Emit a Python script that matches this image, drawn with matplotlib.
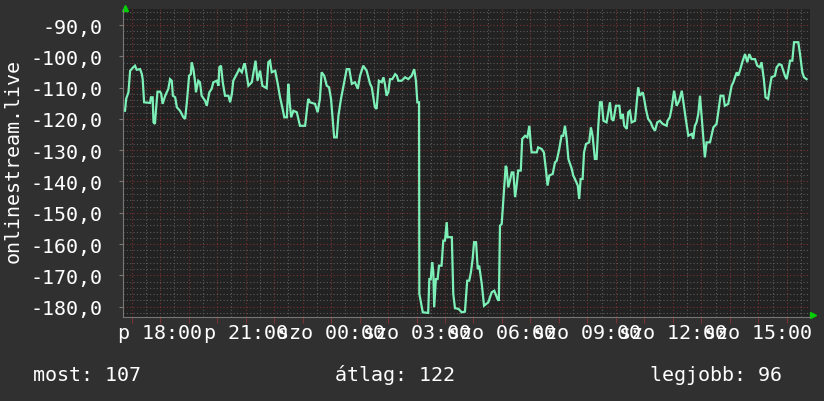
import matplotlib
matplotlib.use('Agg')
import matplotlib.pyplot as plt
from matplotlib.ticker import MultipleLocator, FuncFormatter

# hours counted from Friday 00:00, signal value per sample
hours = [16.77, 16.81, 16.89, 16.95, 17.06, 17.12, 17.18, 17.30, 17.36, 17.39,
         17.44, 17.65, 17.68, 17.74, 17.77, 17.82, 17.86, 17.91, 18.00, 18.04,
         18.09, 18.18, 18.26, 18.29, 18.35, 18.41, 18.45, 18.53, 18.59, 18.70,
         18.82, 18.88, 18.94, 19.02, 19.08, 19.11, 19.17, 19.23, 19.26, 19.34,
         19.40, 19.46, 19.58, 19.64, 19.73, 19.81, 19.87, 19.99, 20.05, 20.08,
         20.14, 20.20, 20.28, 20.40, 20.46, 20.52, 20.57, 20.69, 20.78, 20.87,
         20.95, 20.98, 21.10, 21.22, 21.30, 21.35, 21.42,
         21.51, 21.59, 21.74, 21.80, 21.86, 21.92, 22.04, 22.13, 22.21, 22.29,
         22.36, 22.45, 22.50, 22.54, 22.60, 22.68, 22.80, 22.91, 23.09, 23.15,
         23.20, 23.26, 23.44, 23.53, 23.61, 23.67, 23.76, 23.85, 23.93, 24.00,
         24.11, 24.20, 24.26, 24.35, 24.47, 24.55, 24.64, 24.73, 24.84, 24.94,
         25.02, 25.13, 25.25, 25.37, 25.43, 25.54, 25.60, 25.68, 25.78, 25.84,
         25.89, 25.95, 26.01, 26.07, 26.15, 26.25, 26.31, 26.36, 26.48, 26.60,
         26.71, 26.83, 26.92, 26.98, 27.03, 27.09,
         27.10, 27.22, 27.41, 27.45, 27.50, 27.55, 27.59, 27.62, 27.68, 27.74,
         27.79, 27.88, 27.94, 28.00, 28.06, 28.09, 28.24, 28.29, 28.35, 28.47,
         28.59, 28.70, 28.78, 28.85, 28.91, 28.97, 29.02, 29.09, 29.15, 29.20,
         29.29, 29.37, 29.52, 29.64, 29.73, 29.84, 29.89, 29.93, 29.99, 30.07,
         30.13, 30.16, 30.22, 30.28, 30.34, 30.40, 30.46, 30.52, 30.57, 30.66,
         30.71, 30.81, 30.89, 30.96, 31.01, 31.04, 31.22, 31.27, 31.39, 31.47,
         31.54, 31.60, 31.66, 31.78, 31.86, 31.92, 32.01, 32.09, 32.15, 32.21,
         32.27, 32.33, 32.45, 32.50, 32.56, 32.66, 32.71, 32.76, 32.83, 32.88,
         32.95, 33.06, 33.12, 33.18, 33.26, 33.32, 33.38, 33.44, 33.50, 33.56,
         33.67, 33.79, 33.85, 33.91, 34.00, 34.12, 34.17, 34.24, 34.29, 34.38,
         34.43, 34.49, 34.55, 34.67, 34.73, 34.78, 34.84, 34.94, 34.98, 35.05,
         35.13, 35.22, 35.29, 35.37, 35.45, 35.54, 35.64, 35.78, 35.81,
         35.89, 35.95, 36.04, 36.13, 36.22, 36.31, 36.36, 36.45, 36.54, 36.66,
         36.71, 36.77, 36.83, 36.89, 36.95, 37.01, 37.12, 37.18, 37.30, 37.42,
         37.53, 37.59, 37.67, 37.77, 37.82, 37.94, 38.06, 38.12, 38.24, 38.29,
         38.35, 38.45, 38.53, 38.61, 38.68, 38.76, 38.88, 38.96, 39.05, 39.11,
         39.19, 39.25, 39.34, 39.40, 39.46, 39.58, 39.64, 39.73, 39.81, 39.93,
         39.99, 40.05, 40.11, 40.19, 40.25, 40.40, 40.46, 40.54, 40.60, 40.69]

values = [-117.4, -113.6, -111.5, -104.6, -103.5, -103.0, -104.3, -104.1, -105.7, -107.3,
          -114.7, -114.9, -113.1, -113.1, -121.1, -121.6, -116.8, -111.3, -111.3, -112.0,
          -115.2, -112.6, -111.0, -110.4, -107.3, -107.8, -112.6, -113.1, -116.3, -117.4,
          -119.5, -120.0, -114.7, -106.2, -105.7, -101.9, -104.1, -108.3, -111.5, -107.8,
          -108.3, -112.6, -114.2, -115.8, -111.5, -110.4, -108.3, -107.8, -109.4, -103.5,
          -103.0, -108.3, -112.6, -112.6, -114.7, -112.0, -107.8, -105.7, -104.1, -105.1,
          -102.5, -102.5, -109.4, -108.3, -104.1, -101.4, -107.8,
          -104.6, -109.4, -110.2, -101.9, -101.4, -105.1, -104.6, -108.8, -113.1, -116.3,
          -119.5, -119.5, -108.8, -113.6, -119.5, -117.4, -117.9, -122.2, -122.2, -117.4,
          -113.6, -114.7, -115.2, -117.9, -113.6, -105.1, -106.2, -109.4, -109.9, -113.6,
          -125.9, -125.9, -119.0, -113.6, -107.8, -104.1, -104.1, -108.8, -108.3, -110.4,
          -106.2, -103.0, -104.6, -108.8, -109.9, -116.3, -116.8, -107.8, -108.3, -106.7,
          -108.8, -112.6, -111.5, -107.3, -107.3, -105.7, -106.2, -107.8, -107.8, -106.7,
          -107.3, -106.2, -104.1, -107.8, -114.7, -114.7,
          -175.9, -181.8, -182.0, -171.2, -171.2, -165.8, -169.0, -180.2, -171.2, -171.2,
          -166.9, -166.9, -158.9, -158.9, -153.0, -157.8, -157.8, -175.9, -180.5, -180.7,
          -181.8, -181.6, -171.7, -171.7, -169.0, -164.8, -159.4, -159.4, -168.0, -166.9,
          -172.7, -179.7, -178.6, -175.4, -174.9, -177.5, -178.1, -154.1, -153.6, -142.9,
          -135.0, -135.5, -141.9, -139.7, -137.1, -137.1, -145.0, -140.8, -136.5, -136.5,
          -126.4, -125.4, -125.9, -122.2, -128.0, -130.7, -130.7, -129.1, -129.6, -130.7,
          -136.0, -141.3, -138.1, -137.6, -133.9, -133.4, -129.6, -125.4, -125.4, -122.2,
          -126.4, -132.8, -136.0, -138.1, -139.2, -141.3, -145.6, -139.2, -139.2, -130.7,
          -128.0, -127.5, -122.7, -125.4, -132.8, -132.8, -122.2, -114.7, -114.7, -120.6,
          -121.1, -114.7, -120.0, -120.6, -115.8, -115.8, -120.0, -118.4, -122.2, -123.2,
          -117.9, -117.4, -121.1, -120.6, -114.7, -109.9, -112.6, -111.5, -113.1, -116.8,
          -120.0, -121.1, -122.7, -123.8, -121.1, -120.6, -121.6, -122.2, -120.6,
          -119.5, -116.8, -111.0, -115.8, -114.2, -111.0, -114.2, -120.0, -125.4, -124.8,
          -126.4, -122.2, -121.1, -118.4, -112.6, -119.5, -132.3, -127.5, -127.5, -122.7,
          -121.6, -117.9, -112.6, -112.6, -115.8, -115.2, -109.4, -108.3, -105.1, -106.2,
          -104.6, -101.4, -99.3, -101.9, -99.3, -100.9, -100.9, -103.0, -103.5, -101.9,
          -107.3, -113.1, -113.6, -109.9, -106.7, -106.2, -103.5, -102.5, -102.8, -106.2,
          -107.3, -104.6, -101.4, -101.4, -95.5, -95.5, -99.3, -105.1, -106.7, -107.3]

tick_hours = [18, 21, 24, 27, 30, 33, 36, 39]
tick_labels = ['p 18:00', 'p 21:00', 'szo 00:00', 'szo 03:00',
               'szo 06:00', 'szo 09:00', 'szo 12:00', 'szo 15:00']
y_label = 'onlinestream.live'
summary = ['most: 107', 'átlag: 122', 'legjobb: 96']

BG = '#303030'
CANVAS = '#222222'
LINE = '#7df0b8'
MAJOR = '#7a3232'
MINOR = '#5a5a5a'
FONT = 'DejaVu Sans Mono'
FS = 14.4

plt.rcParams['font.family'] = FONT

fig = plt.figure(figsize=(8.24, 4.02), dpi=100, facecolor=BG)
ax = fig.add_axes([0.1493, 0.209, 0.8337, 0.766], facecolor=CANVAS)

ax.set_xlim(16.70, 40.81)
ax.set_ylim(-183.3, -84.9)

ax.xaxis.set_major_locator(MultipleLocator(1))
ax.xaxis.set_minor_locator(MultipleLocator(0.5))
ax.yaxis.set_major_locator(MultipleLocator(10))
ax.yaxis.set_minor_locator(MultipleLocator(2))

ax.grid(which='minor', color=MINOR, linestyle=(0, (1, 2)), linewidth=0.8)
ax.grid(which='major', color=MAJOR, linestyle=(0, (1, 2)), linewidth=0.8)
ax.set_axisbelow(True)

ax.plot(hours, values, color=LINE, linewidth=1.6, solid_joinstyle='miter')

# x labels only every 3 hours
major_x = list(range(17, 41))
ax.set_xticks(major_x)
ax.set_xticklabels([tick_labels[tick_hours.index(h)] if h in tick_hours else ''
                    for h in major_x])
ax.tick_params(axis='x', which='major', length=4, color=MAJOR, pad=0,
               labelcolor='white', labelsize=FS)
ax.tick_params(axis='x', which='minor', length=0)
ax.tick_params(axis='y', which='major', length=3, color='#777777', pad=12,
               labelcolor='white', labelsize=FS)
ax.tick_params(axis='y', which='minor', length=0)
ax.yaxis.set_major_formatter(FuncFormatter(lambda v, p: f'{v:.1f}'.replace('.', ',')))

for s in ['top', 'right']:
    ax.spines[s].set_visible(False)
ax.spines['left'].set_color('#777777')
ax.spines['bottom'].set_color('#777777')
ax.spines['left'].set_linewidth(0.8)
ax.spines['bottom'].set_linewidth(0.8)

# green arrow heads at the axis ends
ax.plot([0.003], [1.005], marker='^', color='#00d000', markersize=5,
        transform=ax.transAxes, clip_on=False)
ax.plot([1.004], [0.006], marker='>', color='#00d000', markersize=5,
        transform=ax.transAxes, clip_on=False)

fig.text(0.016, 0.60, y_label, rotation=90, color='white', fontsize=FS,
         ha='center', va='center')

fig.text(0.040, 0.067, summary[0], color='white', fontsize=FS, ha='left', va='center')
fig.text(0.4066, 0.067, summary[1], color='white', fontsize=FS, ha='left', va='center')
fig.text(0.789, 0.067, summary[2], color='white', fontsize=FS, ha='left', va='center')

fig.savefig('out.png', dpi=100, facecolor=BG)
